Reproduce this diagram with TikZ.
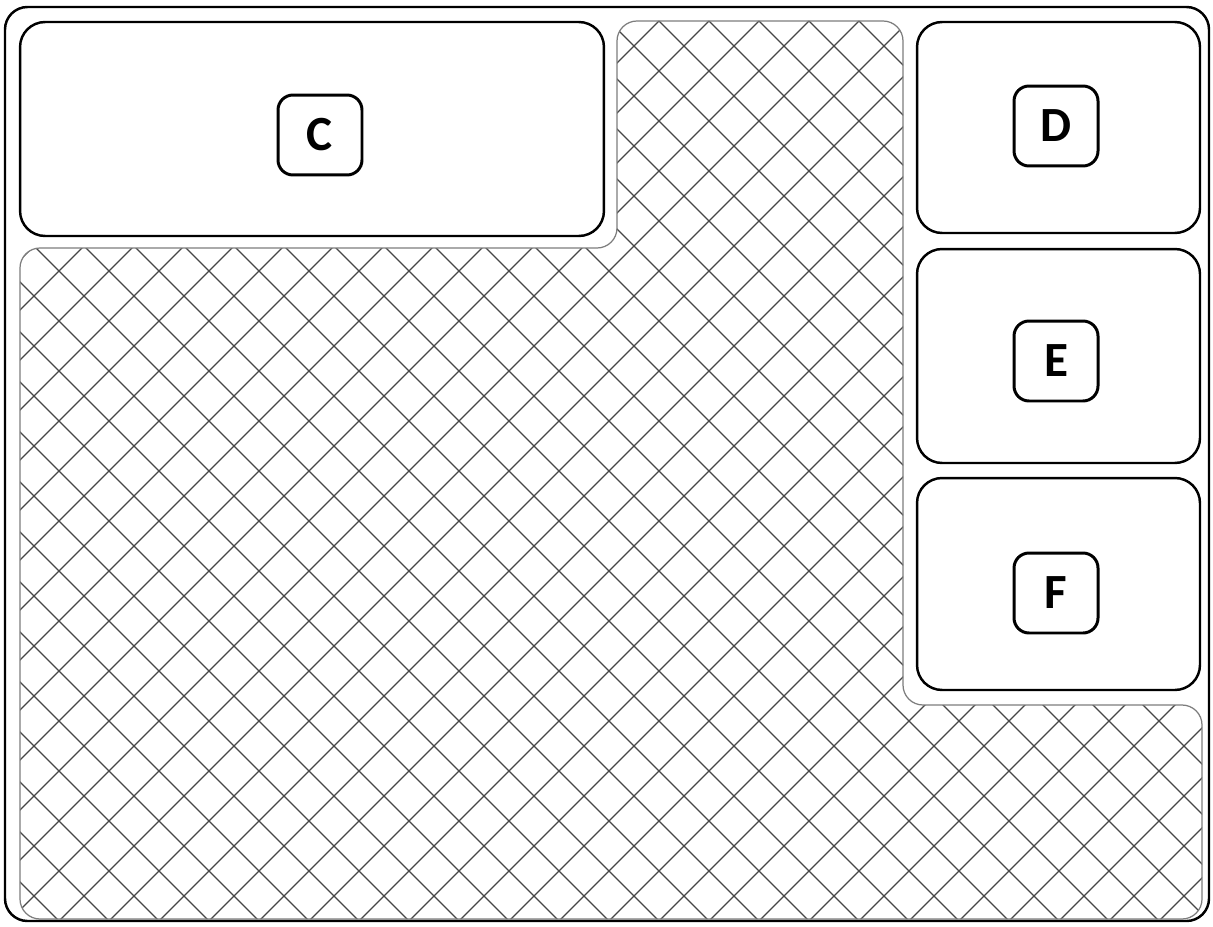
\documentclass[tikz,border=0pt]{standalone}
\usepackage{fontspec}
\setmainfont{Carlito}
\usetikzlibrary{positioning}
\definecolor{HatchGray}{RGB}{70,70,70}
\definecolor{EdgeGray}{RGB}{125,125,125}

\begin{document}
\begin{tikzpicture}[
    x=0.02cm, y=-0.02cm,
    panel/.style={draw, line width=1.4pt, rounded corners=0.5cm, inner sep=0pt, outer sep=0pt},
    tag/.style={draw, line width=1.7pt, rounded corners=0.3cm, minimum width=1.68cm, minimum height=1.6cm,
        inner sep=0pt, font=\bfseries\fontsize{28}{28}\selectfont},
    hatchline/.style={HatchGray, line width=0.7pt},
]
\useasboundingbox (0,0) rectangle (1213,926);
\fill[white] (0,0) rectangle (1213,926);

% hatched ground
\begin{scope}
    \clip[rounded corners=0.4cm] (20,919) -- (20,248) -- (617,248) -- (617,21) -- (903,21)
        -- (903,705) -- (1202,705) -- (1202,919) -- cycle;
    \foreach \k in {0,...,44}
        \draw[hatchline] ({30+50*\k},0) -- ({30+50*\k-926},926);
    \foreach \k in {-20,...,25}
        \draw[hatchline] ({38+50*\k},0) -- ({38+50*\k+926},926);
\end{scope}
\draw[EdgeGray, line width=0.7pt, rounded corners=0.4cm] (20,919) -- (20,248) -- (617,248) -- (617,21)
    -- (903,21) -- (903,705) -- (1202,705) -- (1202,919) -- cycle;

% outer frame
\draw[line width=1.4pt, rounded corners=0.45cm] (5,7) rectangle (1209,921);

% panels
\node[panel, minimum width=11.68cm, minimum height=4.28cm] (panelC) at (312,129) {};
\node[panel, minimum width=5.66cm, minimum height=4.22cm] (panelD) at (1058.5,127.5) {};
\node[panel, minimum width=5.66cm, minimum height=4.28cm] (panelE) at (1058.5,356) {};
\node[panel, minimum width=5.66cm, minimum height=4.24cm] (panelF) at (1058.5,584) {};

% tags
\node[tag] (tagC) at (320,135) {C};
\node[tag] (tagD) at (1056,126) {D};
\node[tag] (tagE) at (1056,361) {E};
\node[tag] (tagF) at (1056,593) {F};
\end{tikzpicture}
\end{document}
